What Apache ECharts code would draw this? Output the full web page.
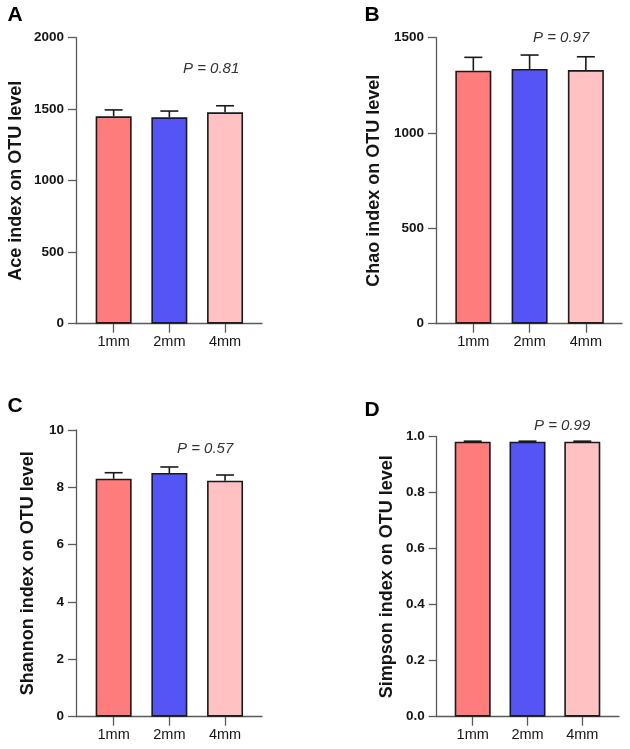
<!DOCTYPE html>
<html>
<head>
<meta charset="utf-8">
<style>
  html, body { margin: 0; padding: 0; background: #fff; }
  #chart { width: 630px; height: 749px; }
</style>
<script src="https://cdn.jsdelivr.net/npm/echarts@6/dist/echarts.min.js"></script>
</head>
<body>
<div id="chart"></div>
<script>
// ---- Data ----
const categories = ['1mm', '2mm', '4mm'];
const barColors = ['#FF7C7C', '#5555F6', '#FFC1C1'];

const aceMean = [1450, 1443, 1478];
const aceErr = [45, 44, 46];
const chaoMean = [1327, 1336, 1330];
const chaoErr = [70, 73, 70];
const shannonMean = [8.30, 8.50, 8.23];
const shannonErr = [0.21, 0.21, 0.20];
const simpsonMean = [0.982, 0.982, 0.982];
const simpsonErr = [0.002, 0.002, 0.002];

const aceTicks = { max: 2000, interval: 500 };
const chaoTicks = { max: 1500, interval: 500 };
const shannonTicks = { max: 10, interval: 2 };
const simpsonTicks = { max: 1.0, interval: 0.2 };

const yTitles = ['Ace index on OTU level', 'Chao index on OTU level', 'Shannon index on OTU level', 'Simpson index on OTU level'];
const panelLetters = ['A', 'B', 'C', 'D'];
const pLabels = ['P = 0.81', 'P = 0.97', 'P = 0.57', 'P = 0.99'];

// ---- Layout (pixels) ----
const FONT = "'Liberation Sans', Arial, Helvetica, sans-serif";
const panels = [
  { mean: aceMean, err: aceErr, ticks: aceTicks, dec: 0,
    wide: { left: 76, top: 37.7, width: 186, height: 286 }, narrowLeft: 85.8, narrowWidth: 167.1, nameGap: 51,
    letter: [15, 15.5], p: [183, 69] },
  { mean: chaoMean, err: chaoErr, ticks: chaoTicks, dec: 0,
    wide: { left: 436, top: 37.7, width: 186, height: 286 }, narrowLeft: 445.2, narrowWidth: 168.8, nameGap: 53,
    letter: [372, 15.5], p: [533, 38.3] },
  { mean: shannonMean, err: shannonErr, ticks: shannonTicks, dec: 0,
    wide: { left: 76, top: 430, width: 186, height: 286.7 }, narrowLeft: 85.8, narrowWidth: 167.1, nameGap: 39,
    letter: [15, 406.5], p: [177, 449.3] },
  { mean: simpsonMean, err: simpsonErr, ticks: simpsonTicks, dec: 1,
    wide: { left: 436.7, top: 436.7, width: 182.3, height: 280 }, narrowLeft: 445.3, narrowWidth: 164.4, nameGap: 41,
    letter: [372, 410], p: [534, 426] }
];

const grid = [], xAxis = [], yAxis = [], series = [], graphic = [];
const axisColor = '#5a5a5a';
const textColor = '#151515';

panels.forEach((pn, k) => {
  const gWide = grid.length;
  grid.push({ left: pn.wide.left, top: pn.wide.top, width: pn.wide.width, height: pn.wide.height });
  const gNarrow = grid.length;
  grid.push({ left: pn.narrowLeft, top: pn.wide.top, width: pn.narrowWidth, height: pn.wide.height });

  // wide grid: axis lines, y labels, title
  xAxis.push({ gridIndex: gWide, type: 'value', min: 0, max: 1,
    axisLine: { show: true, lineStyle: { color: axisColor, width: 1.3 } },
    axisTick: { show: false }, axisLabel: { show: false }, splitLine: { show: false } });
  yAxis.push({ gridIndex: gWide, type: 'value', min: 0, max: pn.ticks.max, interval: pn.ticks.interval,
    axisLine: { show: true, lineStyle: { color: axisColor, width: 1.3 } },
    axisTick: { show: true, length: 8, lineStyle: { color: axisColor, width: 1.3 } },
    axisLabel: { margin: 12, fontFamily: FONT, fontSize: 13.5, fontWeight: 'bold', color: textColor,
      formatter: v => v.toFixed(pn.dec) },
    splitLine: { show: false },
    name: yTitles[k], nameLocation: 'middle', nameGap: pn.nameGap,
    nameTextStyle: { fontFamily: FONT, fontSize: 18, fontWeight: 'bold', color: textColor } });

  // narrow grid: categories and bars
  const xi = xAxis.length;
  xAxis.push({ gridIndex: gNarrow, type: 'category', data: categories,
    axisLine: { show: false },
    axisTick: { show: true, alignWithLabel: true, length: 9, lineStyle: { color: axisColor, width: 1.3 } },
    axisLabel: { margin: 11, fontFamily: FONT, fontSize: 14.5, color: textColor } });
  const yi = yAxis.length;
  yAxis.push({ gridIndex: gNarrow, type: 'value', min: 0, max: pn.ticks.max, interval: pn.ticks.interval, show: false });

  series.push({
    type: 'bar', xAxisIndex: xi, yAxisIndex: yi, barWidth: 36, z: 2,
    data: pn.mean.map((v, i) => ({ value: v, itemStyle: { color: barColors[i] } })),
    itemStyle: { borderColor: '#1a1a1a', borderWidth: 1.6 },
    silent: true, animation: false
  });
  series.push({
    type: 'custom', xAxisIndex: xi, yAxisIndex: yi, z: 3, silent: true, animation: false,
    encode: { x: 0, y: 1 },
    data: pn.mean.map((v, i) => [i, v, pn.err[i]]),
    renderItem: function (params, api) {
      const base = api.coord([api.value(0), api.value(1)]);
      const top = api.coord([api.value(0), api.value(1) + api.value(2)]);
      const style = { stroke: '#1a1a1a', lineWidth: 1.6 };
      return { type: 'group', children: [
        { type: 'line', shape: { x1: base[0], y1: base[1], x2: top[0], y2: top[1] }, style: style },
        { type: 'line', shape: { x1: top[0] - 9, y1: top[1], x2: top[0] + 9, y2: top[1] }, style: style }
      ] };
    }
  });

  graphic.push({ type: 'text', x: pn.letter[0], y: pn.letter[1],
    style: { text: panelLetters[k], fontFamily: FONT, fontSize: 21, fontWeight: 'bold', fill: '#000',
      textAlign: 'center', textVerticalAlign: 'middle' } });
  graphic.push({ type: 'text', x: pn.p[0], y: pn.p[1],
    style: { text: pLabels[k], fontFamily: FONT, fontSize: 15, fontStyle: 'italic', fill: '#333',
      textAlign: 'left', textVerticalAlign: 'middle' } });
});

const chart = echarts.init(document.getElementById('chart'), null, { renderer: 'canvas' });
chart.setOption({ animation: false, backgroundColor: '#ffffff', grid, xAxis, yAxis, series, graphic });
</script>
</body>
</html>
